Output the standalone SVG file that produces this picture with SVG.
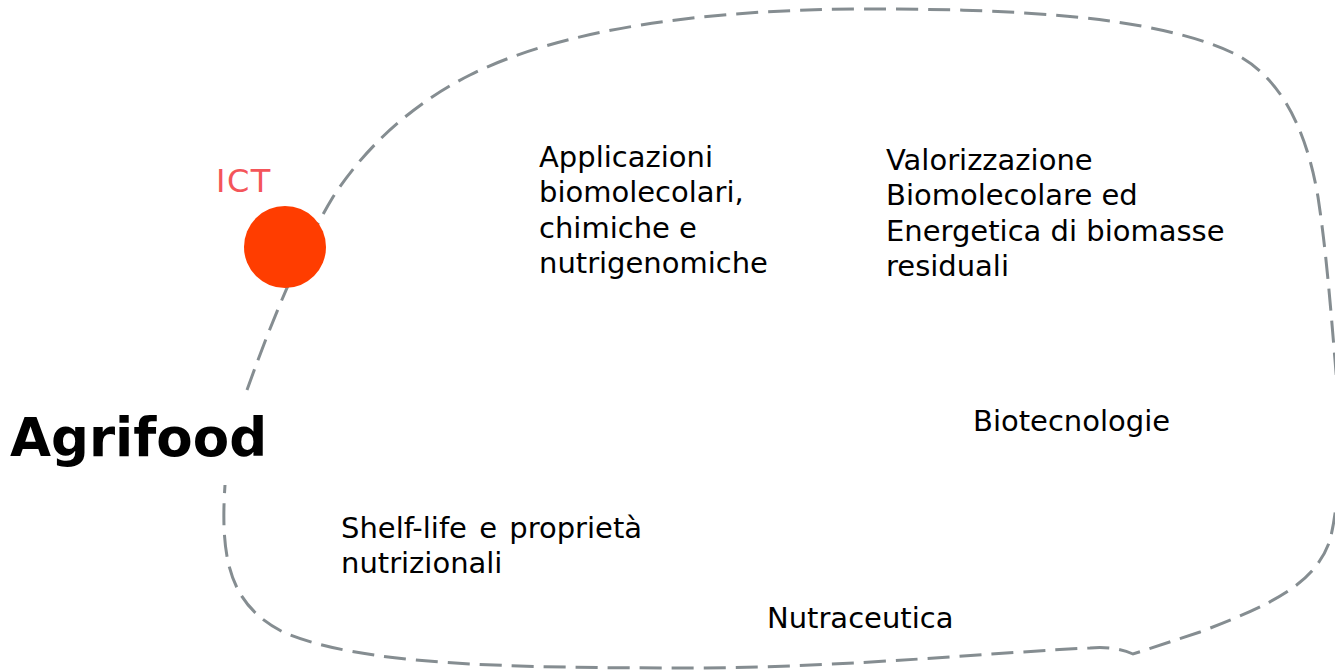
<svg xmlns="http://www.w3.org/2000/svg" width="1335" height="671" viewBox="0 0 1335 671">
  <style>
    .lbl { font-family: "DejaVu Sans", Verdana, sans-serif; font-size: 29px; fill: #000; }
    .border { fill: none; stroke: #858d91; stroke-width: 3; stroke-dasharray: 22 10; }
  </style>
  <rect width="1335" height="671" fill="#fff"/>
  <g id="connectors">
    <path class="border" d="M 247 390 C 265 340, 295 260, 333 197 C 370 140, 420 100, 470 75 C 560 30, 700 9, 870 9 C 1000 9, 1150 14, 1233 53 C 1275 73, 1305 120, 1318 197 C 1326 250, 1330 300, 1335 360 C 1342 440, 1340 500, 1330 540 C 1315 585, 1270 605, 1200 632 L 1133 654 Q 1115 646, 1090 648 C 1000 652, 850 667, 700 668 C 500 668, 360 665, 283 632 C 230 605, 220 560, 225 485"/>
  </g>
  <g id="agrifood">
    <text x="10" y="456" font-family="DejaVu Sans, Verdana, sans-serif" font-size="53" font-weight="bold" fill="#000">Agrifood</text>
  </g>
  <g id="ict">
    <circle cx="285" cy="247" r="41" fill="#ff3d00"/>
    <text x="216" y="192" font-family="DejaVu Sans, Verdana, sans-serif" font-size="32" letter-spacing="1.5" fill="#f4555a">ICT</text>
  </g>
  <g id="applicazioni">
    <text class="lbl" x="539" y="167">Applicazioni</text>
    <text class="lbl" x="539" y="202">biomolecolari,</text>
    <text class="lbl" x="539" y="238">chimiche e</text>
    <text class="lbl" x="539" y="273">nutrigenomiche</text>
  </g>
  <g id="valorizzazione">
    <text class="lbl" x="886" y="170">Valorizzazione</text>
    <text class="lbl" x="886" y="205">Biomolecolare ed</text>
    <text class="lbl" x="886" y="241">Energetica di biomasse</text>
    <text class="lbl" x="886" y="276">residuali</text>
  </g>
  <g id="biotecnologie">
    <text class="lbl" x="973" y="431">Biotecnologie</text>
  </g>
  <g id="shelf-life">
    <text class="lbl" x="341" y="538" word-spacing="3">Shelf-life e proprietà</text>
    <text class="lbl" x="341" y="573">nutrizionali</text>
  </g>
  <g id="nutraceutica">
    <text class="lbl" x="767" y="628">Nutraceutica</text>
  </g>
</svg>
